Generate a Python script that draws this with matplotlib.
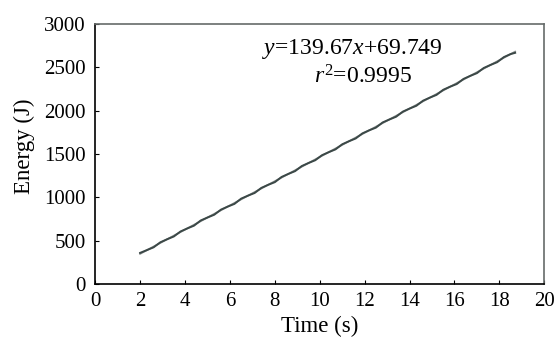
import matplotlib.pyplot as plt
import numpy as np

plt.rcParams['font.family'] = 'Liberation Serif'
plt.rcParams['mathtext.fontset'] = 'custom'
plt.rcParams['mathtext.rm'] = 'Liberation Serif'
plt.rcParams['mathtext.it'] = 'Liberation Serif:italic'

# measured energy vs time
tiempo = [2.0, 2.3, 2.6, 2.9, 3.2, 3.5, 3.8, 4.1, 4.4, 4.7, 5.0, 5.3, 5.6, 5.9,
          6.2, 6.5, 6.8, 7.1, 7.4, 7.7, 8.0, 8.3, 8.6, 8.9, 9.2, 9.5, 9.8, 10.1,
          10.4, 10.7, 11.0, 11.3, 11.6, 11.9, 12.2, 12.5, 12.8, 13.1, 13.4, 13.7,
          14.0, 14.3, 14.6, 14.9, 15.2, 15.5, 15.8, 16.1, 16.4, 16.7, 17.0, 17.3,
          17.6, 17.9, 18.2, 18.5, 18.7]
energia = [360, 392, 424, 482, 517, 549, 607, 642, 674, 734, 768, 800, 859, 894,
           925, 986, 1020, 1051, 1110, 1145, 1176, 1236, 1271, 1303, 1362, 1397,
           1429, 1487, 1522, 1554, 1613, 1648, 1680, 1739, 1774, 1805, 1865, 1899,
           1931, 1990, 2025, 2057, 2116, 2151, 2183, 2242, 2277, 2308, 2367, 2402,
           2434, 2493, 2528, 2560, 2619, 2654, 2668]

# linear fit
pendiente = 139.67
ordenada = 69.749
r2 = 0.9995

fig, ax = plt.subplots(figsize=(5.6, 3.39), dpi=100)
fig.subplots_adjust(left=0.17, right=0.972, top=0.929, bottom=0.162)

xs = np.array([tiempo[0], tiempo[-1]])
ax.plot(xs, pendiente * xs + ordenada, color='#8a8f8e', lw=1.3)
ax.plot(tiempo, energia, color='#3b4847', lw=1.4)

ax.set_xlim(0, 20)
ax.set_ylim(0, 3000)
ax.set_xticks(range(0, 21, 2))
ax.set_yticks(range(0, 3001, 500))
ax.tick_params(direction='in', length=3, labelsize=15)
ax.tick_params(axis='x', pad=6)
ax.tick_params(axis='y', pad=7)
ax.set_xlabel('Time (s)', fontsize=16.5, labelpad=3)
ax.set_ylabel('Energy (J)', fontsize=16.5)
ax.yaxis.set_label_coords(-0.135, 0.53)

for s in ['left', 'bottom']:
    ax.spines[s].set_color('black')
    ax.spines[s].set_linewidth(1.2)
for s in ['top', 'right']:
    ax.spines[s].set_color('#666b6a')
    ax.spines[s].set_linewidth(1.2)

ax.text(11.45, 2712, r'$y$=139.67$x$+69.749', fontsize=17, ha='center', va='center')
ax.text(11.94, 2388, r'$r^2$=0.9995', fontsize=17, ha='center', va='center')

fig.savefig('out.png')
